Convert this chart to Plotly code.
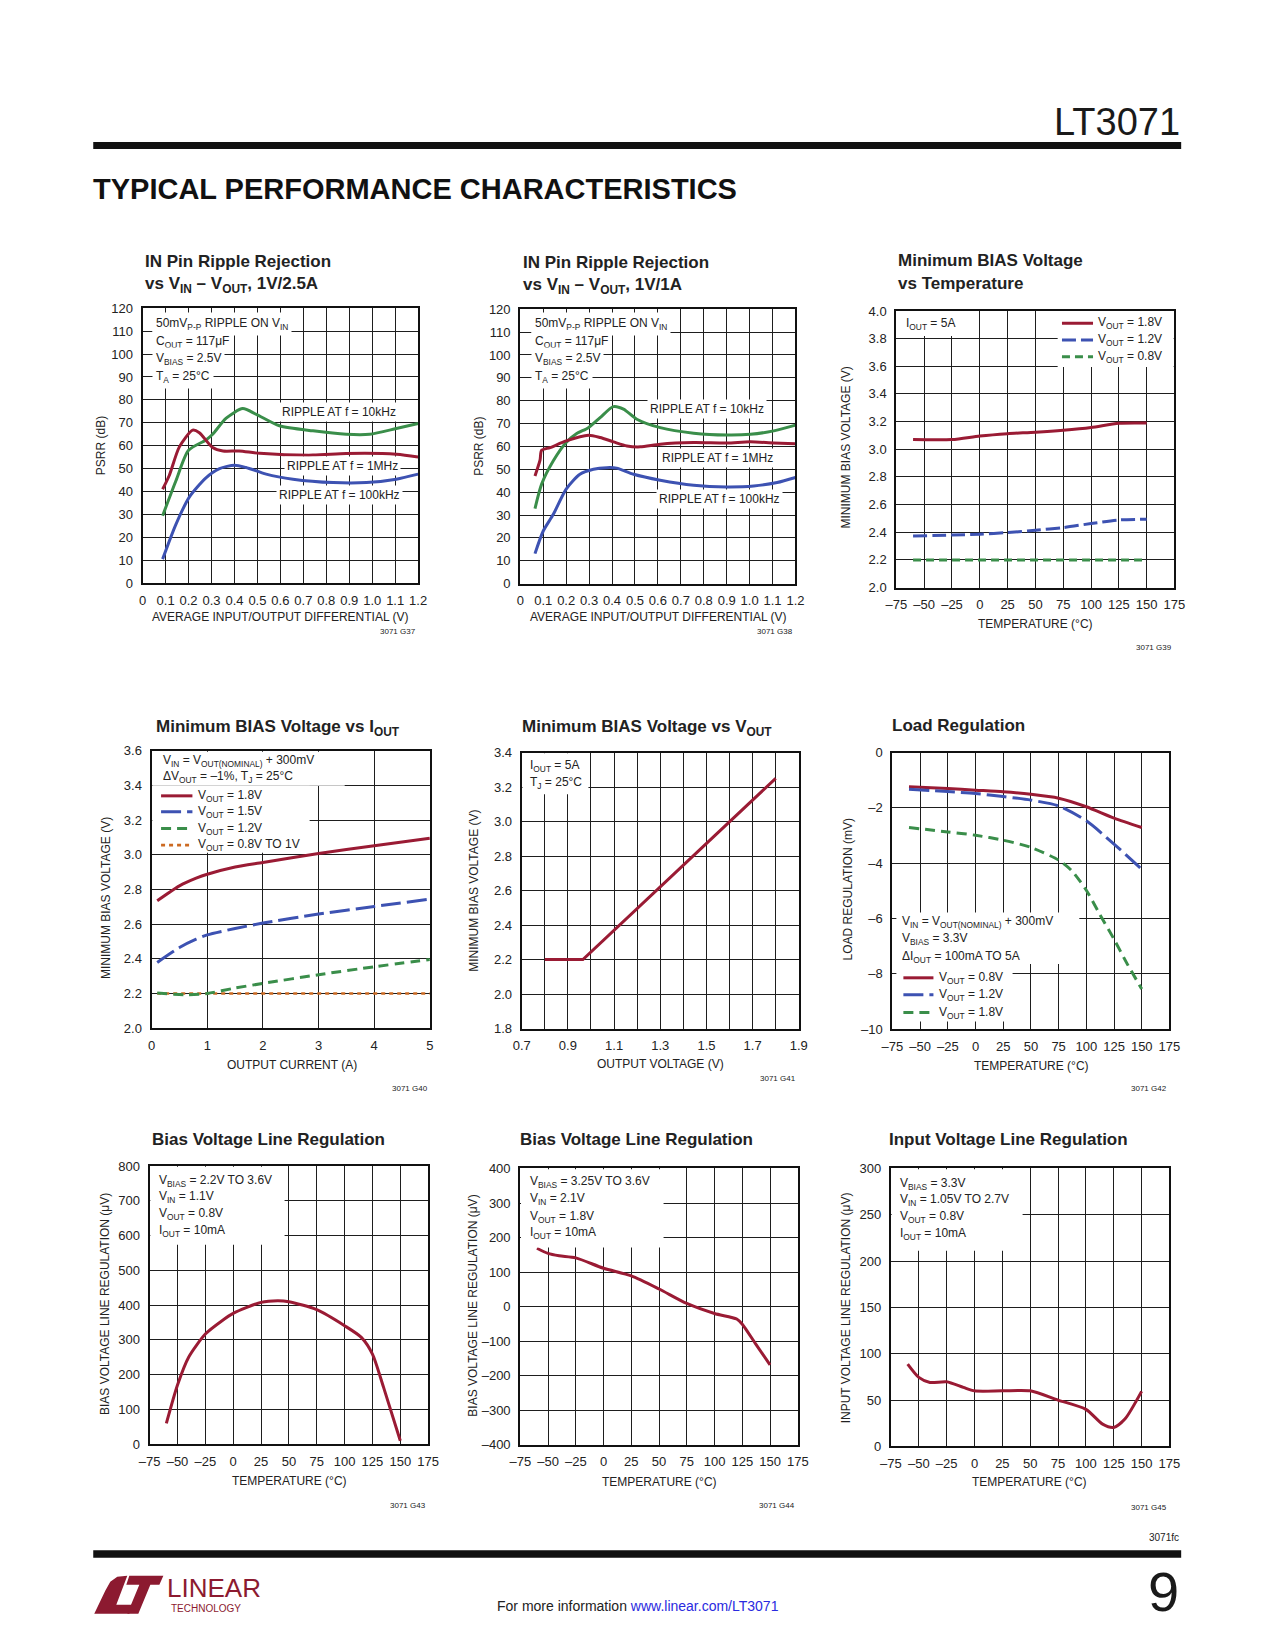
import plotly.graph_objects as go

# ======================= DATA =======================
# G37 : IN pin ripple rejection vs VIN-VOUT, 1V/2.5A
G37_X_10K = [0.087, 0.145, 0.2, 0.276, 0.305, 0.364, 0.436, 0.495, 0.596, 0.742, 0.887, 0.989, 1.105, 1.2]
G37_Y_10K = [29.4, 44.7, 58.0, 62.5, 65.0, 72.0, 76.2, 73.7, 68.7, 66.5, 65.0, 65.0, 67.5, 69.7]
G37_X_1M = [0.087, 0.116, 0.16, 0.218, 0.247, 0.305, 0.35, 0.42, 0.51, 0.742, 0.887, 1.105, 1.2]
G37_Y_1M = [41.0, 47.0, 59.5, 66.8, 65.7, 59.2, 57.7, 57.7, 56.7, 55.9, 56.6, 56.3, 55.1]
G37_X_100K = [0.087, 0.145, 0.204, 0.276, 0.335, 0.4, 0.45, 0.538, 0.655, 0.83, 0.975, 1.105, 1.2]
G37_Y_100K = [10.5, 25.7, 37.7, 46.0, 50.0, 51.5, 50.5, 47.6, 45.4, 43.9, 43.9, 45.4, 47.6]

# G38 : IN pin ripple rejection vs VIN-VOUT, 1V/1A
G38_X_10K = [0.064, 0.093, 0.144, 0.2, 0.246, 0.297, 0.348, 0.406, 0.45, 0.508, 0.61, 0.756, 0.9, 1.003, 1.105, 1.2]
G38_Y_10K = [32.8, 43.5, 53.7, 61.7, 65.6, 68.2, 72.6, 77.4, 76.3, 71.9, 68.2, 65.8, 65.0, 65.3, 66.8, 69.3]
G38_X_1M = [0.064, 0.086, 0.093, 0.13, 0.2, 0.297, 0.348, 0.406, 0.465, 0.523, 0.61, 0.756, 0.9, 1.003, 1.105, 1.2]
G38_Y_1M = [47.1, 54.0, 58.3, 59.5, 62.4, 64.9, 63.9, 62.0, 60.2, 59.8, 61.0, 61.7, 61.5, 62.0, 61.5, 61.2]
G38_X_100K = [0.064, 0.1, 0.144, 0.2, 0.26, 0.319, 0.377, 0.42, 0.494, 0.61, 0.756, 0.9, 1.018, 1.12, 1.2]
G38_Y_100K = [13.1, 23.0, 30.3, 41.3, 47.8, 50.0, 50.7, 50.5, 47.8, 45.2, 43.0, 42.3, 42.7, 44.2, 46.4]

PSRR_X_TICKVALS = [0, 0.1, 0.2, 0.3, 0.4, 0.5, 0.6, 0.7, 0.8, 0.9, 1.0, 1.1, 1.2]
PSRR_X_TICKTEXT = ["0", "0.1", "0.2", "0.3", "0.4", "0.5", "0.6", "0.7", "0.8", "0.9", "1.0", "1.1", "1.2"]
PSRR_Y_TICKVALS = [0, 10, 20, 30, 40, 50, 60, 70, 80, 90, 100, 110, 120]

# G39 : minimum BIAS voltage vs temperature
G39_T = [-60, -25, 0, 25, 50, 75, 100, 125, 150]
G39_V18 = [3.07, 3.07, 3.096, 3.113, 3.123, 3.137, 3.157, 3.188, 3.19]
G39_V12 = [2.373, 2.38, 2.386, 2.398, 2.414, 2.434, 2.463, 2.489, 2.494]
G39_V08 = [2.2, 2.2, 2.2, 2.2, 2.2, 2.2, 2.2, 2.2, 2.2]

TEMP_TICKVALS = [-75, -50, -25, 0, 25, 50, 75, 100, 125, 150, 175]
TEMP_TICKTEXT = ["–75", "–50", "–25", "0", "25", "50", "75", "100", "125", "150", "175"]
BIAS_Y_TICKVALS_4 = [2.0, 2.2, 2.4, 2.6, 2.8, 3.0, 3.2, 3.4, 3.6, 3.8, 4.0]
BIAS_Y_TICKTEXT_4 = ["2.0", "2.2", "2.4", "2.6", "2.8", "3.0", "3.2", "3.4", "3.6", "3.8", "4.0"]

# G40 : minimum BIAS voltage vs IOUT
G40_I = [0.1, 0.5, 0.8, 1.0, 1.5, 2, 3, 4, 5]
G40_V18 = [2.735, 2.821, 2.865, 2.888, 2.93, 2.956, 3.008, 3.052, 3.096]
G40_V15 = [2.379, 2.465, 2.513, 2.538, 2.575, 2.606, 2.658, 2.702, 2.744]
G40_I12 = [0.1, 0.6, 1.0, 1.5, 2, 3, 4, 5]
G40_V12 = [2.202, 2.192, 2.2, 2.231, 2.258, 2.308, 2.354, 2.396]
G40_I08 = [0.1, 5]
G40_V08 = [2.2, 2.2]
G40_X_TICKVALS = [0, 1, 2, 3, 4, 5]
BIAS_Y_TICKVALS_36 = [2.0, 2.2, 2.4, 2.6, 2.8, 3.0, 3.2, 3.4, 3.6]
BIAS_Y_TICKTEXT_36 = ["2.0", "2.2", "2.4", "2.6", "2.8", "3.0", "3.2", "3.4", "3.6"]

# G41 : minimum BIAS voltage vs VOUT
G41_VOUT = [0.8, 0.965, 1.8]
G41_VBIAS = [2.2, 2.2, 3.25]
G41_X_TICKVALS = [0.7, 0.8, 0.9, 1.0, 1.1, 1.2, 1.3, 1.4, 1.5, 1.6, 1.7, 1.8, 1.9]
G41_X_TICKTEXT = ["0.7", "", "0.9", "", "1.1", "", "1.3", "", "1.5", "", "1.7", "", "1.9"]
G41_Y_TICKVALS = [1.8, 2.0, 2.2, 2.4, 2.6, 2.8, 3.0, 3.2, 3.4]
G41_Y_TICKTEXT = ["1.8", "2.0", "2.2", "2.4", "2.6", "2.8", "3.0", "3.2", "3.4"]

# G42 : load regulation
G42_T = [-60, -25, 0, 25, 50, 75, 100, 125, 150]
G42_V08 = [-1.24, -1.30, -1.36, -1.42, -1.51, -1.65, -1.96, -2.37, -2.71]
G42_V12 = [-1.33, -1.41, -1.48, -1.59, -1.72, -1.93, -2.47, -3.31, -4.22]
G42_T18 = [-60, -25, 0, 25, 50, 75, 87, 100, 112, 125, 137, 150]
G42_V18 = [-2.71, -2.87, -2.99, -3.17, -3.43, -3.89, -4.28, -4.98, -5.84, -6.75, -7.65, -8.55]
G42_Y_TICKVALS = [-10, -8, -6, -4, -2, 0]
G42_Y_TICKTEXT = ["–10", "–8", "–6", "–4", "–2", "0"]

# G43 : bias voltage line regulation (VOUT = 0.8V)
G43_T = [-60, -50, -40, -25, -10, 0, 25, 40, 50, 75, 100, 115, 125, 135, 150]
G43_UV = [59.5, 170, 250, 316.6, 355, 376, 407.7, 412.5, 409.6, 386.6, 340.5, 307, 259, 163, 9.6]
G43_Y_TICKVALS = [0, 100, 200, 300, 400, 500, 600, 700, 800]

# G44 : bias voltage line regulation (VOUT = 1.8V)
G44_T = [-60, -50, -40, -25, 0, 25, 50, 75, 100, 120, 125, 137, 150]
G44_UV = [169, 154, 147, 141, 111, 89, 51, 9, -20, -36, -51, -108, -169]
G44_Y_TICKVALS = [-400, -300, -200, -100, 0, 100, 200, 300, 400]
G44_Y_TICKTEXT = ["–400", "–300", "–200", "–100", "0", "100", "200", "300", "400"]

# G45 : input voltage line regulation
G45_T = [-60, -50, -40, -25, -10, 0, 25, 50, 75, 100, 115, 125, 135, 150]
G45_UV = [88.8, 74.5, 69, 69.8, 63.7, 60, 60, 60, 50, 40, 24, 20.5, 29.5, 59.4]
G45_Y_TICKVALS = [0, 50, 100, 150, 200, 250, 300]

# ======================= STYLE / LAYOUT =======================
W, H = 1275, 1650
# the photographed page comes out slightly rescaled and shifted;
# page positions below are given as they should appear in the final picture
SX, CX = 0.981, 11.9
SY, CY = 0.9911, 6.0
FONT = "Liberation Sans Narrow, Arial Narrow, Liberation Sans, Arial, sans-serif"
INK = "#222222"
RED = "#9a1b34"
GREEN = "#3a8e4a"
BLUE = "#3d52b2"
ORANGE = "#cc6a22"
LOGO = "#8c1a30"


def px(x):
    return ((x - CX) / SX) / W


def py(y):
    return 1 - ((y - CY) / SY) / H


# plot boxes in page pixels: left, top, right, bottom
PLOTS = {
    1: (143.3, 307.3, 418.3, 582.3),
    2: (520.3, 308.3, 795.0, 582.7),
    3: (895.7, 310.0, 1173.3, 586.7),
    4: (152.3, 750.0, 430.0, 1027.3),
    5: (521.7, 751.7, 798.3, 1027.7),
    6: (891.7, 751.7, 1168.3, 1028.3),
    7: (150.3, 1165.3, 428.3, 1443.3),
    8: (520.3, 1167.7, 797.3, 1444.0),
    9: (890.3, 1167.7, 1168.3, 1445.7),
}


def axname(i):
    return ("x", "y") if i == 1 else (f"x{i}", f"y{i}")


fig = go.Figure()


def add_line(i, x, y, color, dash="solid", shape="spline", width=3.0):
    xa, ya = axname(i)
    fig.add_trace(go.Scatter(
        x=x, y=y, mode="lines", xaxis=xa, yaxis=ya, hoverinfo="skip",
        line=dict(color=color, width=width, dash=dash, shape=shape,
                  smoothing=0.7 if shape == "spline" else None),
        showlegend=False))


# ---- traces
add_line(1, G37_X_10K, G37_Y_10K, GREEN)
add_line(1, G37_X_1M, G37_Y_1M, RED)
add_line(1, G37_X_100K, G37_Y_100K, BLUE)
add_line(2, G38_X_10K, G38_Y_10K, GREEN)
add_line(2, G38_X_1M, G38_Y_1M, RED)
add_line(2, G38_X_100K, G38_Y_100K, BLUE)

DASH_L3 = "14px,5px"
DASH_S3 = "8px,5px"
add_line(3, G39_T, G39_V18, RED)
add_line(3, G39_T, G39_V12, BLUE, DASH_L3)
add_line(3, G39_T, G39_V08, GREEN, DASH_S3, shape="linear")

DASH_L = "20px,6px"
DASH_S = "10px,6px"
DASH_D = "4px,4px"
add_line(4, G40_I08, G40_V08, ORANGE, DASH_D, shape="linear", width=2.6)
add_line(4, G40_I12, G40_V12, GREEN, DASH_S)
add_line(4, G40_I, G40_V15, BLUE, DASH_L)
add_line(4, G40_I, G40_V18, RED)

add_line(5, G41_VOUT, G41_VBIAS, RED, shape="linear")

add_line(6, G42_T, G42_V08, RED)
add_line(6, G42_T, G42_V12, BLUE, DASH_L)
add_line(6, G42_T18, G42_V18, GREEN, DASH_S)

add_line(7, G43_T, G43_UV, RED)
add_line(8, G44_T, G44_UV, RED)
add_line(9, G45_T, G45_UV, RED)

# ---- axes
AX_SPEC = {
    1: (dict(range=[0, 1.2], tickvals=PSRR_X_TICKVALS, ticktext=PSRR_X_TICKTEXT),
        dict(range=[0, 120], tickvals=PSRR_Y_TICKVALS)),
    2: (dict(range=[0, 1.2], tickvals=PSRR_X_TICKVALS, ticktext=PSRR_X_TICKTEXT),
        dict(range=[0, 120], tickvals=PSRR_Y_TICKVALS)),
    3: (dict(range=[-75, 175], tickvals=TEMP_TICKVALS, ticktext=TEMP_TICKTEXT),
        dict(range=[2.0, 4.0], tickvals=BIAS_Y_TICKVALS_4, ticktext=BIAS_Y_TICKTEXT_4)),
    4: (dict(range=[0, 5], tickvals=G40_X_TICKVALS),
        dict(range=[2.0, 3.6], tickvals=BIAS_Y_TICKVALS_36, ticktext=BIAS_Y_TICKTEXT_36)),
    5: (dict(range=[0.7, 1.9], tickvals=G41_X_TICKVALS, ticktext=G41_X_TICKTEXT),
        dict(range=[1.8, 3.4], tickvals=G41_Y_TICKVALS, ticktext=G41_Y_TICKTEXT)),
    6: (dict(range=[-75, 175], tickvals=TEMP_TICKVALS, ticktext=TEMP_TICKTEXT),
        dict(range=[-10, 0], tickvals=G42_Y_TICKVALS, ticktext=G42_Y_TICKTEXT)),
    7: (dict(range=[-75, 175], tickvals=TEMP_TICKVALS, ticktext=TEMP_TICKTEXT),
        dict(range=[0, 800], tickvals=G43_Y_TICKVALS)),
    8: (dict(range=[-75, 175], tickvals=TEMP_TICKVALS, ticktext=TEMP_TICKTEXT),
        dict(range=[-400, 400], tickvals=G44_Y_TICKVALS, ticktext=G44_Y_TICKTEXT)),
    9: (dict(range=[-75, 175], tickvals=TEMP_TICKVALS, ticktext=TEMP_TICKTEXT),
        dict(range=[0, 300], tickvals=G45_Y_TICKVALS)),
}

TICK = 13
layout_axes = {}
for i, (L, T, R, B) in PLOTS.items():
    xa, ya = axname(i)
    common = dict(showline=True, linewidth=2.2, linecolor="#111111", mirror=True,
                  showgrid=True, gridcolor="#1e1e1e", gridwidth=1.2, zeroline=False,
                  ticks="", fixedrange=True,
                  tickfont=dict(family=FONT, size=TICK, color=INK))
    xs, ys = AX_SPEC[i]
    xd = dict(common, domain=[px(L), px(R)], anchor=ya, ticklabelstandoff=4, **xs)
    yd = dict(common, domain=[py(B), py(T)], anchor=xa, ticklabelstandoff=5, **ys)
    layout_axes["xaxis" if i == 1 else f"xaxis{i}"] = xd
    layout_axes["yaxis" if i == 1 else f"yaxis{i}"] = yd

annotations = []
shapes = []


def text(x, y, s, size=12, xanchor="left", yanchor="middle", color=INK,
         bg=None, pad=1, angle=0, family=FONT):
    d = dict(x=px(x), y=py(y), xref="paper", yref="paper", text=s, showarrow=False,
             xanchor=xanchor, yanchor=yanchor, align="left",
             font=dict(family=family, size=size, color=color), borderpad=pad,
             textangle=angle)
    if bg:
        d["bgcolor"] = bg
    annotations.append(d)


def white_box(L, T, R, B):
    shapes.append(dict(type="rect", xref="paper", yref="paper", x0=px(L), x1=px(R),
                       y0=py(B), y1=py(T), fillcolor="white", line=dict(width=0),
                       layer="above"))


def key_line(x0, x1, y, color, dash="solid", width=3.0):
    shapes.append(dict(type="line", xref="paper", yref="paper", x0=px(x0), x1=px(x1),
                       y0=py(y), y1=py(y), line=dict(color=color, width=width, dash=dash),
                       layer="above"))


# ---- chart titles
TITLE = 17
text(144, 261, "<b>IN Pin Ripple Rejection</b>", TITLE)
text(144, 284, "<b>vs V<sub>IN</sub> – V<sub>OUT</sub>, 1V/2.5A</b>", TITLE)
text(521, 262, "<b>IN Pin Ripple Rejection</b>", TITLE)
text(521, 285, "<b>vs V<sub>IN</sub> – V<sub>OUT</sub>, 1V/1A</b>", TITLE)
text(895, 260, "<b>Minimum BIAS Voltage</b>", TITLE)
text(895, 283, "<b>vs Temperature</b>", TITLE)
text(155, 727, "<b>Minimum BIAS Voltage vs I<sub>OUT</sub></b>", TITLE)
text(520, 727, "<b>Minimum BIAS Voltage vs V<sub>OUT</sub></b>", TITLE)
text(889, 725, "<b>Load Regulation</b>", TITLE)
text(151, 1139, "<b>Bias Voltage Line Regulation</b>", TITLE)
text(518, 1139, "<b>Bias Voltage Line Regulation</b>", TITLE)
text(886, 1139, "<b>Input Voltage Line Regulation</b>", TITLE)

# ---- axis titles
AXT = 12
x_titles = [
    (280, 616, "AVERAGE INPUT/OUTPUT DIFFERENTIAL (V)"),
    (658, 616.5, "AVERAGE INPUT/OUTPUT DIFFERENTIAL (V)"),
    (1035, 623, "TEMPERATURE (°C)"),
    (292, 1064, "OUTPUT CURRENT (A)"),
    (660, 1063, "OUTPUT VOLTAGE (V)"),
    (1031, 1065, "TEMPERATURE (°C)"),
    (290, 1480, "TEMPERATURE (°C)"),
    (659, 1481, "TEMPERATURE (°C)"),
    (1029, 1481, "TEMPERATURE (°C)"),
]
for x, y, s in x_titles:
    text(x, y, s, AXT, xanchor="center")
y_titles = [
    (102, 445, "PSRR (dB)"),
    (479, 445, "PSRR (dB)"),
    (845, 447, "MINIMUM BIAS VOLTAGE (V)"),
    (107, 897, "MINIMUM BIAS VOLTAGE (V)"),
    (474, 890, "MINIMUM BIAS VOLTAGE (V)"),
    (847, 889, "LOAD REGULATION (mV)"),
    (105, 1303, "BIAS VOLTAGE LINE REGULATION (μV)"),
    (473, 1305, "BIAS VOLTAGE LINE REGULATION (μV)"),
    (845, 1307, "INPUT VOLTAGE LINE REGULATION (μV)"),
]
for x, y, s in y_titles:
    text(x, y, s, AXT, xanchor="center", angle=-90)

# ---- figure codes
for x, y, s in [(418, 631, "3071 G37"), (795, 631, "3071 G38"), (1173, 647, "3071 G39"),
                (430, 1088, "3071 G40"), (798, 1078, "3071 G41"), (1168, 1088, "3071 G42"),
                (428, 1505, "3071 G43"), (797, 1505, "3071 G44"), (1168, 1507, "3071 G45")]:
    text(x, y, s, 8, xanchor="right")

# ---- chart 1 & 2 notes (per-line white backgrounds)
NOTE = 12
PSRR_NOTES = ["50mV<sub>P-P</sub> RIPPLE ON V<sub>IN</sub>", "C<sub>OUT</sub> = 117μF",
              "V<sub>BIAS</sub> = 2.5V", "T<sub>A</sub> = 25°C"]
for left in (152.7, 530.7):
    for yy, s in zip([323.3, 340.7, 358.3, 376.0], PSRR_NOTES):
        text(left, yy, s, NOTE, bg="white", pad=3)
for cx, cy, s in [(339.3, 411, "RIPPLE AT f = 10kHz"), (342.7, 465, "RIPPLE AT f = 1MHz"),
                  (340, 494, "RIPPLE AT f = 100kHz"),
                  (706.7, 407.7, "RIPPLE AT f = 10kHz"), (717.3, 456.7, "RIPPLE AT f = 1MHz"),
                  (719.3, 497.7, "RIPPLE AT f = 100kHz")]:
    text(cx, cy, s, NOTE, xanchor="center", bg="white", pad=2)

# ---- chart 3 notes & key
white_box(895.7, 310, 958, 335)
text(903.3, 323.3, "I<sub>OUT</sub> = 5A", NOTE)
white_box(1056.7, 310, 1172.5, 366)
for yy, col, dash, s in [(322.3, RED, "solid", "V<sub>OUT</sub> = 1.8V"),
                         (339.0, BLUE, DASH_L3, "V<sub>OUT</sub> = 1.2V"),
                         (355.7, GREEN, DASH_S3, "V<sub>OUT</sub> = 0.8V")]:
    key_line(1061, 1092, yy, col, dash)
    text(1095, yy, s, NOTE)

# ---- chart 4 notes & key
white_box(153, 751, 345, 785)
text(161.7, 760, "V<sub>IN</sub> = V<sub>OUT(NOMINAL)</sub> + 300mV", NOTE)
text(161.7, 776.5, "ΔV<sub>OUT</sub> = –1%, T<sub>J</sub> = 25°C", NOTE)
white_box(153, 785, 310, 852)
for yy, col, dash, s in [(795.0, RED, "solid", "V<sub>OUT</sub> = 1.8V"),
                         (811.0, BLUE, DASH_L, "V<sub>OUT</sub> = 1.5V"),
                         (827.7, GREEN, DASH_S, "V<sub>OUT</sub> = 1.2V"),
                         (844.3, ORANGE, DASH_D, "V<sub>OUT</sub> = 0.8V TO 1V")]:
    key_line(161.7, 193, yy, col, dash, 2.6 if col == ORANGE else 3.0)
    text(196.7, yy, s, NOTE)

# ---- chart 5 notes
white_box(522.5, 752.5, 588.3, 793.3)
text(528.3, 765, "I<sub>OUT</sub> = 5A", NOTE)
text(528.3, 781.7, "T<sub>J</sub> = 25°C", NOTE)

# ---- chart 6 notes & key
white_box(895.7, 911.7, 1078.3, 963.3)
white_box(895.7, 963.3, 1011.7, 1020.7)
text(899, 920.7, "V<sub>IN</sub> = V<sub>OUT(NOMINAL)</sub> + 300mV", NOTE)
text(899, 938.3, "V<sub>BIAS</sub> = 3.3V", NOTE)
text(899, 956, "ΔI<sub>OUT</sub> = 100mA TO 5A", NOTE)
for yy, col, dash, s in [(977.0, RED, "solid", "V<sub>OUT</sub> = 0.8V"),
                         (994.0, BLUE, DASH_L, "V<sub>OUT</sub> = 1.2V"),
                         (1011.7, GREEN, DASH_S, "V<sub>OUT</sub> = 1.8V")]:
    key_line(902.7, 932.7, yy, col, dash)
    text(936, yy, s, NOTE)

# ---- charts 7-9 notes
white_box(151, 1166, 285, 1244)
for yy, s in zip([1180, 1196.7, 1213.3, 1230],
                 ["V<sub>BIAS</sub> = 2.2V TO 3.6V", "V<sub>IN</sub> = 1.1V",
                  "V<sub>OUT</sub> = 0.8V", "I<sub>OUT</sub> = 10mA"]):
    text(157.3, yy, s, NOTE)
white_box(521, 1168.5, 663.3, 1246.7)
for yy, s in zip([1181.7, 1198.3, 1216, 1232.7],
                 ["V<sub>BIAS</sub> = 3.25V TO 3.6V", "V<sub>IN</sub> = 2.1V",
                  "V<sub>OUT</sub> = 1.8V", "I<sub>OUT</sub> = 10mA"]):
    text(527.7, yy, s, NOTE)
white_box(891, 1168.5, 1021.7, 1250)
for yy, s in zip([1183.3, 1199.3, 1216.7, 1233.3],
                 ["V<sub>BIAS</sub> = 3.3V", "V<sub>IN</sub> = 1.05V TO 2.7V",
                  "V<sub>OUT</sub> = 0.8V", "I<sub>OUT</sub> = 10mA"]):
    text(897.7, yy, s, NOTE)

# ---- page header / footer
text(1181, 121, "LT3071", 38, xanchor="right", color="#1a1a1a")
shapes.append(dict(type="rect", xref="paper", yref="paper", x0=px(94), x1=px(1180),
                   y0=py(148), y1=py(141), fillcolor="#111111", line=dict(width=0)))
text(92, 188, "<b>TYPICAL PERFORMANCE CHARACTERISTICS</b>", 29, color="#111111")
shapes.append(dict(type="rect", xref="paper", yref="paper", x0=px(94), x1=px(1180),
                   y0=py(1557), y1=py(1549.5), fillcolor="#111111", line=dict(width=0)))
text(1180, 1537, "3071fc", 10, xanchor="right")
text(1180, 1591, "9", 56, xanchor="right", color="#1a1a1a")
text(638, 1605, "For more information <span style='color:#2a2ae0'>www.linear.com/LT3071</span>",
     14, xanchor="center")


def path(points):
    return "M " + " L ".join(f"{px(a):.5f},{py(b):.5f}" for a, b in points) + " Z"


shapes.append(dict(type="path", xref="paper", yref="paper", fillcolor=LOGO, line=dict(width=0),
                   path=path([(95, 1613), (106, 1590), (111, 1581), (118, 1576), (128, 1575),
                              (117, 1604), (134, 1604), (130, 1613)])))
shapes.append(dict(type="path", xref="paper", yref="paper", fillcolor=LOGO, line=dict(width=0),
                   path=path([(130, 1575), (164, 1575), (160, 1584), (151, 1584),
                              (139, 1613), (128, 1613), (140, 1584), (127, 1584)])))
text(166, 1587, "LINEAR", 26, color=LOGO)
text(170, 1608, "TECHNOLOGY", 10, color=LOGO)

fig.update_layout(
    width=W, height=H, margin=dict(l=0, r=0, t=0, b=0),
    paper_bgcolor="white", plot_bgcolor="white", showlegend=False,
    annotations=annotations, shapes=shapes, **layout_axes,
)

fig.write_html("out.html", config={"responsive": False, "displayModeBar": False},
               post_script="document.body.style.margin='0';document.body.style.overflow='hidden';")
